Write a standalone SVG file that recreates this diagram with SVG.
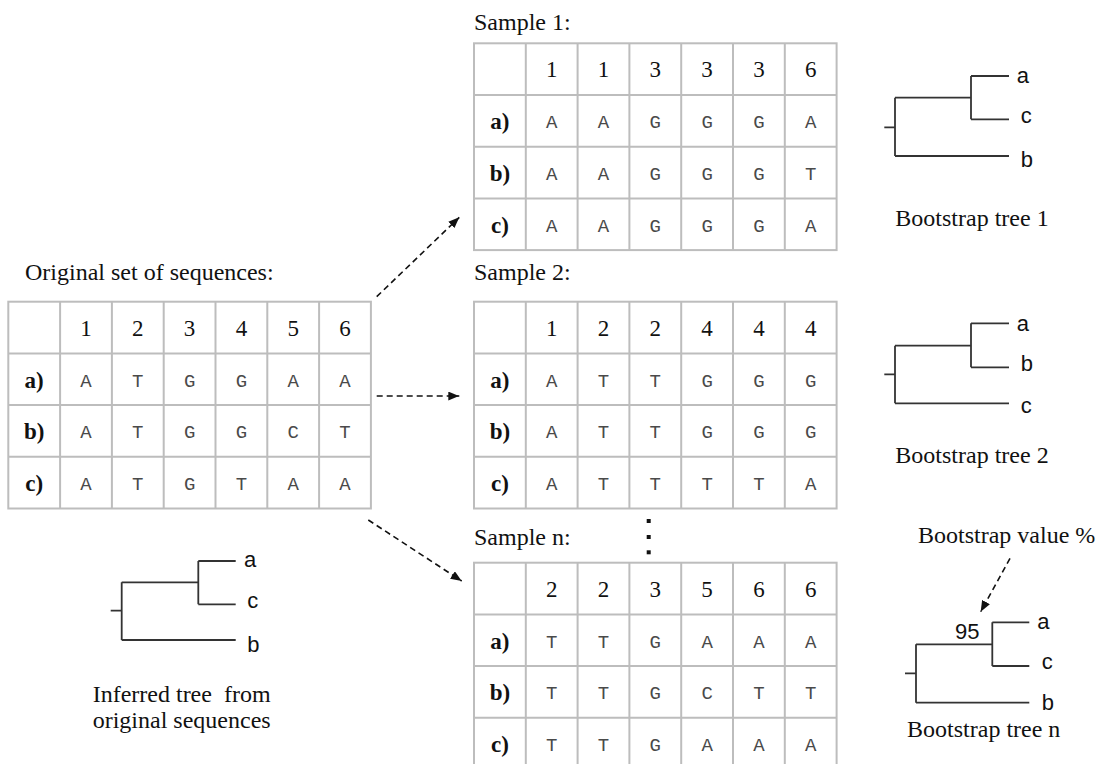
<svg xmlns="http://www.w3.org/2000/svg" xmlns:xlink="http://www.w3.org/1999/xlink" width="1098" height="764" viewBox="0 0 1098 764">
<style>
.cap{font-family:"Liberation Serif","Times New Roman",serif;font-size:24px;fill:#111;}
.num{font-family:"Liberation Serif","Times New Roman",serif;font-size:23px;fill:#111;text-anchor:middle;}
.lbl{font-family:"Liberation Serif","Times New Roman",serif;font-size:23px;font-weight:bold;fill:#111;text-anchor:middle;}
.seq{font-family:"Liberation Mono","Courier New",monospace;font-size:19px;fill:#4a4a4a;text-anchor:middle;}
.leaf{font-family:"Liberation Sans",Arial,sans-serif;font-size:22px;fill:#111;}
.grid{fill:#fff;stroke:#bdbdbd;stroke-width:2;}
.tree{fill:none;stroke:#333;stroke-width:1.8;}
.arrow{fill:none;stroke:#111;stroke-width:1.6;stroke-dasharray:6 4;marker-end:url(#ah);}
</style>
<defs>
<marker id="ah" viewBox="0 0 10 8" refX="10" refY="4" markerWidth="11" markerHeight="9" markerUnits="userSpaceOnUse" orient="auto">
<path d="M0,0 L10,4 L0,8 z" fill="#111"/>
</marker>
<g id="grid">
<rect class="grid" x="0" y="0" width="362.6" height="206.8"/>
<path class="grid" d="M51.8,0 V206.8 M103.6,0 V206.8 M155.4,0 V206.8 M207.2,0 V206.8 M259,0 V206.8 M310.8,0 V206.8 M0,51.7 H362.6 M0,103.4 H362.6 M0,155.1 H362.6"/>
</g>
</defs>
<rect width="1098" height="764" fill="#fff"/>

<g id="original">
<text class="cap" x="25" y="280">Original set of sequences:</text>
<g transform="translate(8.3,301.7)">
<use xlink:href="#grid"/>
<text class="num" x="77.7" y="33.9">1</text><text class="num" x="129.5" y="33.9">2</text><text class="num" x="181.3" y="33.9">3</text><text class="num" x="233.1" y="33.9">4</text><text class="num" x="284.9" y="33.9">5</text><text class="num" x="336.7" y="33.9">6</text>
<text class="lbl" x="25.9" y="86">a)</text><text class="lbl" x="25.9" y="137.8">b)</text><text class="lbl" x="25.9" y="189.5">c)</text>
<text class="seq" x="77.7" y="85">A</text><text class="seq" x="129.5" y="85">T</text><text class="seq" x="181.3" y="85">G</text><text class="seq" x="233.1" y="85">G</text><text class="seq" x="284.9" y="85">A</text><text class="seq" x="336.7" y="85">A</text>
<text class="seq" x="77.7" y="136.7">A</text><text class="seq" x="129.5" y="136.7">T</text><text class="seq" x="181.3" y="136.7">G</text><text class="seq" x="233.1" y="136.7">G</text><text class="seq" x="284.9" y="136.7">C</text><text class="seq" x="336.7" y="136.7">T</text>
<text class="seq" x="77.7" y="188.4">A</text><text class="seq" x="129.5" y="188.4">T</text><text class="seq" x="181.3" y="188.4">G</text><text class="seq" x="233.1" y="188.4">T</text><text class="seq" x="284.9" y="188.4">A</text><text class="seq" x="336.7" y="188.4">A</text>
</g>
</g>

<g id="sample1">
<text class="cap" x="474" y="30">Sample 1:</text>
<g transform="translate(474,43.3)">
<use xlink:href="#grid"/>
<text class="num" x="77.7" y="33.9">1</text><text class="num" x="129.5" y="33.9">1</text><text class="num" x="181.3" y="33.9">3</text><text class="num" x="233.1" y="33.9">3</text><text class="num" x="284.9" y="33.9">3</text><text class="num" x="336.7" y="33.9">6</text>
<text class="lbl" x="25.9" y="86">a)</text><text class="lbl" x="25.9" y="137.8">b)</text><text class="lbl" x="25.9" y="189.5">c)</text>
<text class="seq" x="77.7" y="85">A</text><text class="seq" x="129.5" y="85">A</text><text class="seq" x="181.3" y="85">G</text><text class="seq" x="233.1" y="85">G</text><text class="seq" x="284.9" y="85">G</text><text class="seq" x="336.7" y="85">A</text>
<text class="seq" x="77.7" y="136.7">A</text><text class="seq" x="129.5" y="136.7">A</text><text class="seq" x="181.3" y="136.7">G</text><text class="seq" x="233.1" y="136.7">G</text><text class="seq" x="284.9" y="136.7">G</text><text class="seq" x="336.7" y="136.7">T</text>
<text class="seq" x="77.7" y="188.4">A</text><text class="seq" x="129.5" y="188.4">A</text><text class="seq" x="181.3" y="188.4">G</text><text class="seq" x="233.1" y="188.4">G</text><text class="seq" x="284.9" y="188.4">G</text><text class="seq" x="336.7" y="188.4">A</text>
</g>
</g>

<g id="sample2">
<text class="cap" x="474" y="280">Sample 2:</text>
<g transform="translate(474,301.7)">
<use xlink:href="#grid"/>
<text class="num" x="77.7" y="33.9">1</text><text class="num" x="129.5" y="33.9">2</text><text class="num" x="181.3" y="33.9">2</text><text class="num" x="233.1" y="33.9">4</text><text class="num" x="284.9" y="33.9">4</text><text class="num" x="336.7" y="33.9">4</text>
<text class="lbl" x="25.9" y="86">a)</text><text class="lbl" x="25.9" y="137.8">b)</text><text class="lbl" x="25.9" y="189.5">c)</text>
<text class="seq" x="77.7" y="85">A</text><text class="seq" x="129.5" y="85">T</text><text class="seq" x="181.3" y="85">T</text><text class="seq" x="233.1" y="85">G</text><text class="seq" x="284.9" y="85">G</text><text class="seq" x="336.7" y="85">G</text>
<text class="seq" x="77.7" y="136.7">A</text><text class="seq" x="129.5" y="136.7">T</text><text class="seq" x="181.3" y="136.7">T</text><text class="seq" x="233.1" y="136.7">G</text><text class="seq" x="284.9" y="136.7">G</text><text class="seq" x="336.7" y="136.7">G</text>
<text class="seq" x="77.7" y="188.4">A</text><text class="seq" x="129.5" y="188.4">T</text><text class="seq" x="181.3" y="188.4">T</text><text class="seq" x="233.1" y="188.4">T</text><text class="seq" x="284.9" y="188.4">T</text><text class="seq" x="336.7" y="188.4">A</text>
</g>
</g>

<g id="dots" fill="#111">
<rect x="646.7" y="519" width="4" height="4"/>
<rect x="646.7" y="535" width="4" height="4"/>
<rect x="646.7" y="550.3" width="4" height="4"/>
</g>

<g id="samplen">
<text class="cap" x="474" y="545">Sample n:</text>
<g transform="translate(474,562.7)">
<use xlink:href="#grid"/>
<text class="num" x="77.7" y="33.9">2</text><text class="num" x="129.5" y="33.9">2</text><text class="num" x="181.3" y="33.9">3</text><text class="num" x="233.1" y="33.9">5</text><text class="num" x="284.9" y="33.9">6</text><text class="num" x="336.7" y="33.9">6</text>
<text class="lbl" x="25.9" y="86">a)</text><text class="lbl" x="25.9" y="137.8">b)</text><text class="lbl" x="25.9" y="189.5">c)</text>
<text class="seq" x="77.7" y="85">T</text><text class="seq" x="129.5" y="85">T</text><text class="seq" x="181.3" y="85">G</text><text class="seq" x="233.1" y="85">A</text><text class="seq" x="284.9" y="85">A</text><text class="seq" x="336.7" y="85">A</text>
<text class="seq" x="77.7" y="136.7">T</text><text class="seq" x="129.5" y="136.7">T</text><text class="seq" x="181.3" y="136.7">G</text><text class="seq" x="233.1" y="136.7">C</text><text class="seq" x="284.9" y="136.7">T</text><text class="seq" x="336.7" y="136.7">T</text>
<text class="seq" x="77.7" y="188.4">T</text><text class="seq" x="129.5" y="188.4">T</text><text class="seq" x="181.3" y="188.4">G</text><text class="seq" x="233.1" y="188.4">A</text><text class="seq" x="284.9" y="188.4">A</text><text class="seq" x="336.7" y="188.4">A</text>
</g>
</g>

<g id="tree-inferred">
<path class="tree" d="M110.7,610.7 H121.7 M121.7,582.3 V640 M121.7,582.3 H198.3 M198.3,561 V604.3 M198.3,561 H235.7 M198.3,604.3 H235.7 M121.7,640 H235.7"/>
<text class="leaf" x="244" y="566.7">a</text>
<text class="leaf" x="247.3" y="608.3">c</text>
<text class="leaf" x="247.3" y="651.7">b</text>
<text class="cap" x="92.7" y="701.7" style="white-space:pre">Inferred tree  from</text>
<text class="cap" x="92.7" y="728.3">original sequences</text>
</g>

<g id="tree1">
<path class="tree" d="M884.3,127.3 H895 M895,97.7 V156 M895,97.7 H971 M971,76 V119.3 M971,76 H1009 M971,119.3 H1009 M895,156 H1009"/>
<text class="leaf" x="1016.7" y="83">a</text>
<text class="leaf" x="1020.7" y="122.7">c</text>
<text class="leaf" x="1020.7" y="166.7">b</text>
<text class="cap" x="972" y="226" text-anchor="middle">Bootstrap tree 1</text>
</g>

<g id="tree2">
<path class="tree" d="M884.3,374.3 H895 M895,345.7 V403.3 M895,345.7 H971 M971,323.3 V367.3 M971,323.3 H1009 M971,367.3 H1009 M895,403.3 H1009"/>
<text class="leaf" x="1016.7" y="330.5">a</text>
<text class="leaf" x="1020.7" y="370.7">b</text>
<text class="leaf" x="1020.7" y="413.3">c</text>
<text class="cap" x="972" y="463.3" text-anchor="middle">Bootstrap tree 2</text>
</g>

<g id="treen">
<text class="cap" x="918" y="543">Bootstrap value %</text>
<path class="tree" d="M905,673.3 H916 M916,644.3 V702.7 M916,644.3 H992.3 M992.3,622.3 V666 M992.3,622.3 H1029.3 M992.3,666 H1029.3 M916,702.7 H1029.3"/>
<text class="leaf" x="955" y="639.3">95</text>
<text class="leaf" x="1037.3" y="629.3">a</text>
<text class="leaf" x="1041.7" y="669.3">c</text>
<text class="leaf" x="1041.7" y="710">b</text>
<text class="cap" x="983.7" y="737" text-anchor="middle">Bootstrap tree n</text>
</g>

<g id="connectors">
<line class="arrow" x1="376.7" y1="296.7" x2="459.3" y2="217.3"/>
<line class="arrow" x1="376.7" y1="396" x2="459.3" y2="396"/>
<line class="arrow" x1="368.3" y1="520" x2="461.7" y2="581"/>
<line class="arrow" x1="1010" y1="558.3" x2="980.7" y2="611.7"/>
</g>
</svg>
